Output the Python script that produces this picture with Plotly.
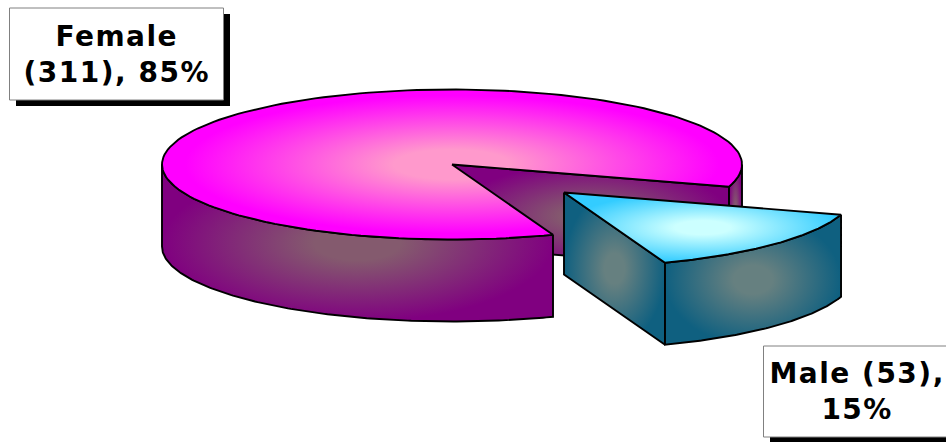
"""Exploded 3D-look pie chart of respondents by gender."""

import numpy as np
import plotly.graph_objects as go

labels = ["Female", "Male"]
counts = [311, 53]
percents = [85, 15]

WIDTH, HEIGHT = 946, 442
CX, CY = 452, 164.5
RX, RY = 290, 75
DEPTH = 82
START_ANGLE = 17.2  # where the male slice starts, clockwise from 3 o'clock
EXPLODE = (112, 28)

sweep_male = 360 * counts[1] / sum(counts)
a0 = START_ANGLE
a1 = START_ANGLE + sweep_male


def arc(start, stop, dx=0, dy=0, n=160):
    t = np.radians(np.linspace(start, stop, n))
    return CX + dx + RX * np.cos(t), CY + dy + RY * np.sin(t)


def face(xs, ys, center, edge, flat_to=0.0, edge_at=1.0):
    # flat_to / edge_at hold the centre and edge colours for a wider soft band
    scale = [[0, center], [flat_to, center], [edge_at, edge], [1, edge]]
    return go.Scatter(
        x=np.append(xs, xs[0]),
        y=np.append(ys, ys[0]),
        mode="lines",
        fill="toself",
        fillgradient={"type": "radial", "colorscale": scale},
        line={"color": "black", "width": 1.9},
        hoverinfo="skip",
        showlegend=False,
    )


def wall(start, stop, dx, dy, center, edge):
    x, y = arc(start, stop, dx, dy)
    return face(np.r_[x, x[::-1]], np.r_[y, y[::-1] + DEPTH], center, edge, 0.22, 1.0)


def radial_wall(angle, dx, dy, center, edge):
    x, y = arc(angle, angle, dx, dy, n=1)
    ax, ay = CX + dx, CY + dy
    xs = np.array([ax, x[0], x[0], ax])
    ys = np.array([ay, y[0], y[0] + DEPTH, ay + DEPTH])
    return face(xs, ys, center, edge, 0.2, 1.0)


def top(start, stop, dx, dy, center, edge, flat_to, edge_at):
    x, y = arc(start, stop, dx, dy)
    return face(np.r_[CX + dx, x], np.r_[CY + dy, y], center, edge, flat_to, edge_at)


PURPLE = ("#845a6e", "#800080")
TEAL = ("#668080", "#0f6080")

fig = go.Figure()

# female slice, back to front
fig.add_trace(radial_wall(a0, 0, 0, *PURPLE))
fig.add_trace(wall(0, a0, 0, 0, *PURPLE))
fig.add_trace(wall(a1, 180, 0, 0, *PURPLE))
fig.add_trace(top(a1, a0 + 360, 0, 0, "#ff99cc", "#ff00ff", 0.2, 0.92))

# male slice, pulled out
fig.add_trace(radial_wall(a1, *EXPLODE, *TEAL))
fig.add_trace(wall(a0, a1, *EXPLODE, *TEAL))
fig.add_trace(top(a0, a1, *EXPLODE, "#ccffff", "#33ccff", 0.2, 1.0))

boxes = [(9.5, 8, 223.5, 100), (763.5, 346, 951, 437)]
for x0, y0, x1, y1 in boxes:
    fig.add_shape(type="rect", x0=x0 + 6.5, y0=y0 + 6, x1=x1 + 6.5, y1=y1 + 6,
                  fillcolor="black", line_width=0)
    fig.add_shape(type="rect", x0=x0, y0=y0, x1=x1, y1=y1,
                  fillcolor="white", line={"color": "#808080", "width": 1})

texts = [
    f"{labels[0]}<br>({counts[0]}), {percents[0]}%",
    f"{labels[1]} ({counts[1]}),<br>{percents[1]}%",
]
for (x0, y0, x1, y1), text in zip(boxes, texts):
    fig.add_annotation(
        x=(x0 + x1) / 2,
        y=(y0 + y1) / 2,
        text=text,
        showarrow=False,
        font={"family": "DejaVu Sans", "size": 28, "color": "black", "weight": "bold"},
    )

fig.update_xaxes(range=[0, WIDTH], visible=False)
fig.update_yaxes(range=[HEIGHT, 0], visible=False)
fig.update_layout(
    width=WIDTH,
    height=HEIGHT,
    margin={"l": 0, "r": 0, "t": 0, "b": 0},
    paper_bgcolor="white",
    plot_bgcolor="white",
)

fig.write_html(
    "out.html",
    config={"displayModeBar": False},
    post_script=(
        "document.body.style.margin='0';document.body.style.overflow='hidden';"
        "document.querySelectorAll('.annotation-text')"
        ".forEach(t => t.style.letterSpacing='1.5px');"
    ),
)
